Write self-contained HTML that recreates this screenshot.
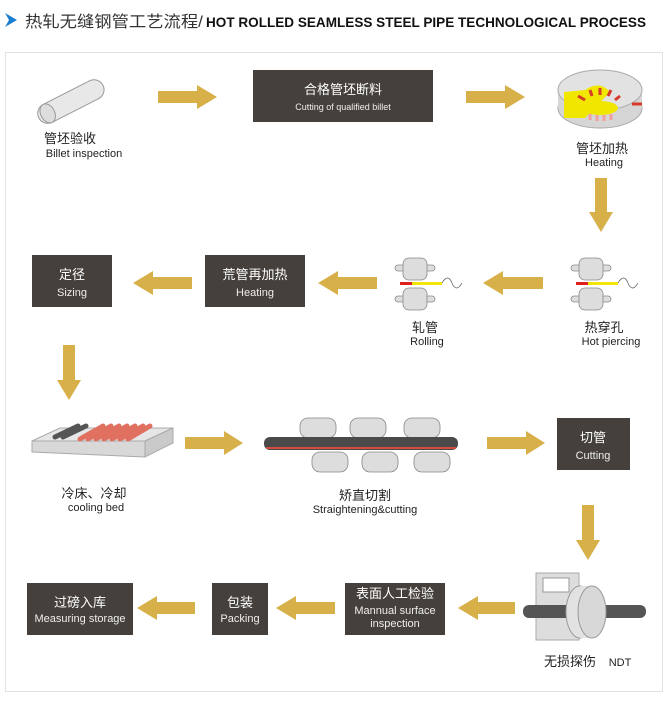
<!DOCTYPE html>
<html><head><meta charset="utf-8"><style>
html,body{margin:0;padding:0;background:#fff;}
svg{display:block;}
text{font-family:"Liberation Sans","Noto Sans CJK SC",sans-serif;}
.cn{font-size:13px;fill:#222;}
.en{font-size:11px;fill:#222;}
.bc{font-size:13px;fill:#fff;}
.be{font-size:11px;fill:#eee;}
.a{fill:#d8b04a;}
.box{fill:#45403c;}
.roll{fill:#ddd;stroke:#888;stroke-width:0.8;}
</style></head><body>
<svg width="672" height="704" viewBox="0 0 672 704" xmlns="http://www.w3.org/2000/svg">
<!-- header -->
<polygon points="5,13 17,20 5,27 9,20" fill="#1a7fd0"/>
<text x="25" y="27" style="font-size:16px;fill:#333" textLength="178" lengthAdjust="spacingAndGlyphs">热轧无缝钢管工艺流程/</text>
<text x="206" y="27" style="font-size:14px;font-weight:bold;fill:#111" textLength="440" lengthAdjust="spacingAndGlyphs">HOT ROLLED SEAMLESS STEEL PIPE TECHNOLOGICAL  PROCESS</text>
<rect x="5.5" y="52.5" width="657" height="639" fill="none" stroke="#e2e2e2"/>

<!-- row 1 -->
<g transform="rotate(-27 70 102)"><rect x="35" y="92" width="72" height="20" rx="10" fill="#e8e8e8" stroke="#999"/><ellipse cx="45" cy="102" rx="7" ry="10" fill="#ddd" stroke="#999"/></g>
<text x="70" y="143" text-anchor="middle" class="cn">管坯验收</text>
<text x="84" y="157" text-anchor="middle" class="en">Billet  inspection</text>
<polygon class="a" points="158,91 197,91 197,85 217,97 197,109 197,103 158,103"/>
<rect class="box" x="253" y="70" width="180" height="52"/>
<text x="343" y="94" text-anchor="middle" class="bc">合格管坯断料</text>
<text x="343" y="110" text-anchor="middle" class="be" style="font-size:9px">Cutting of qualified billet</text>
<polygon class="a" points="466,91 505,91 505,85 525,97 505,109 505,103 466,103"/>
<!-- furnace -->
<ellipse cx="600" cy="108" rx="42" ry="20" fill="#d6d6d6" stroke="#aaa"/>
<rect x="558" y="90" width="84" height="18" fill="#d6d6d6"/>
<ellipse cx="600" cy="90" rx="42" ry="20" fill="#e2e2e2" stroke="#aaa"/>
<path d="M564 92 L585 90 Q600 80 610 92 L585 118 L564 118 Z" fill="#f0e600"/>
<ellipse cx="600" cy="108" rx="18" ry="7" fill="#f0e600"/>
<g stroke="#d63a2a" stroke-width="3"><line x1="585" y1="100" x2="578" y2="96"/><line x1="592" y1="96" x2="590" y2="90"/><line x1="600" y1="95" x2="600" y2="88"/><line x1="608" y1="96" x2="611" y2="90"/><line x1="615" y1="100" x2="620" y2="96"/><line x1="632" y1="104" x2="642" y2="104"/></g>
<g stroke="#f2a0a0" stroke-width="3"><line x1="590" y1="114" x2="590" y2="120"/><line x1="597" y1="115" x2="597" y2="121"/><line x1="604" y1="115" x2="604" y2="121"/><line x1="611" y1="114" x2="611" y2="120"/></g>
<text x="602" y="153" text-anchor="middle" class="cn">管坯加热</text>
<text x="604" y="166" text-anchor="middle" class="en">Heating</text>
<polygon class="a" points="595,178 607,178 607,212 613,212 601,232 589,212 595,212"/>

<!-- row 2 -->
<rect class="box" x="32" y="255" width="80" height="52"/>
<text x="72" y="279" text-anchor="middle" class="bc">定径</text>
<text x="72" y="296" text-anchor="middle" class="be">Sizing</text>
<polygon class="a" points="192,277 153,277 153,271 133,283 153,295 153,289 192,289"/>
<rect class="box" x="205" y="255" width="100" height="52"/>
<text x="255" y="279" text-anchor="middle" class="bc">荒管再加热</text>
<text x="255" y="296" text-anchor="middle" class="be">Heating</text>
<polygon class="a" points="377,277 338,277 338,271 318,283 338,295 338,289 377,289"/>
<polygon class="a" points="543,277 503,277 503,271 483,283 503,295 503,289 543,289"/>
<!-- rolling mills -->
<g id="mill">
<rect x="395" y="265" width="40" height="6" rx="3" class="roll"/>
<rect x="403" y="258" width="24" height="22" rx="6" class="roll"/>
<rect x="395" y="296" width="40" height="6" rx="3" class="roll"/>
<rect x="403" y="288" width="24" height="22" rx="6" class="roll"/>
<rect x="400" y="282" width="32" height="3" fill="#e02020"/>
<rect x="412" y="282" width="30" height="3" fill="#f2e600"/>
<path d="M442 283 q6 -10 10 0 t10 0" fill="none" stroke="#555" stroke-width="0.7"/>
</g>
<use href="#mill" transform="translate(176,0)"/>
<text x="425" y="332" text-anchor="middle" class="cn">轧管</text>
<text x="427" y="345" text-anchor="middle" class="en">Rolling</text>
<text x="604" y="332" text-anchor="middle" class="cn">热穿孔</text>
<text x="611" y="345" text-anchor="middle" class="en">Hot piercing</text>
<polygon class="a" points="63,345 75,345 75,380 81,380 69,400 57,380 63,380"/>

<!-- row 3 -->
<polygon points="32,441 60,428 173,428 145,441" fill="#e6e6e6" stroke="#aaa"/>
<polygon points="32,441 145,441 145,457 32,452" fill="#d8d8d8" stroke="#aaa"/>
<polygon points="145,441 173,428 173,443 145,457" fill="#cacaca" stroke="#aaa"/>
<g stroke-width="5" stroke-linecap="round">
<line x1="55" y1="437" x2="78" y2="426" stroke="#555"/><line x1="63" y1="437" x2="86" y2="426" stroke="#555"/>
<line x1="80" y1="439" x2="103" y2="426" stroke="#e07060"/><line x1="88" y1="439" x2="111" y2="426" stroke="#e07060"/>
<line x1="96" y1="439" x2="119" y2="426" stroke="#e07060"/><line x1="104" y1="439" x2="127" y2="426" stroke="#e07060"/>
<line x1="112" y1="439" x2="135" y2="426" stroke="#e07060"/><line x1="120" y1="439" x2="143" y2="426" stroke="#e07060"/>
<line x1="128" y1="439" x2="150" y2="426" stroke="#e07060"/></g>
<text x="94" y="498" text-anchor="middle" class="cn">冷床、冷却</text>
<text x="96" y="511" text-anchor="middle" class="en">cooling bed</text>
<polygon class="a" points="185,437 224,437 224,431 243,443 224,455 224,449 185,449"/>
<g class="roll"><rect x="300" y="418" width="36" height="20" rx="8"/><rect x="350" y="418" width="36" height="20" rx="8"/><rect x="404" y="418" width="36" height="20" rx="8"/>
<rect x="312" y="452" width="36" height="20" rx="8"/><rect x="362" y="452" width="36" height="20" rx="8"/><rect x="414" y="452" width="36" height="20" rx="8"/></g>
<rect x="264" y="437" width="194" height="13" rx="6" fill="#4a4a4a"/>
<rect x="266" y="447" width="190" height="2" fill="#d84a3a"/>
<text x="365" y="500" text-anchor="middle" class="cn">矫直切割</text>
<text x="365" y="513" text-anchor="middle" class="en">Straightening&amp;cutting</text>
<polygon class="a" points="487,437 526,437 526,431 545,443 526,455 526,449 487,449"/>
<rect class="box" x="557" y="418" width="73" height="52"/>
<text x="593" y="442" text-anchor="middle" class="bc">切管</text>
<text x="593" y="459" text-anchor="middle" class="be">Cutting</text>
<polygon class="a" points="582,505 594,505 594,540 600,540 588,560 576,540 582,540"/>

<!-- row 4 -->
<rect class="box" x="27" y="583" width="106" height="52"/>
<text x="80" y="607" text-anchor="middle" class="bc">过磅入库</text>
<text x="80" y="622" text-anchor="middle" class="be">Measuring storage</text>
<polygon class="a" points="195,602 157,602 157,596 137,608 157,620 157,614 195,614"/>
<rect class="box" x="212" y="583" width="56" height="52"/>
<text x="240" y="607" text-anchor="middle" class="bc">包装</text>
<text x="240" y="622" text-anchor="middle" class="be">Packing</text>
<polygon class="a" points="335,602 296,602 296,596 276,608 296,620 296,614 335,614"/>
<rect class="box" x="345" y="583" width="100" height="52"/>
<text x="395" y="598" text-anchor="middle" class="bc">表面人工检验</text>
<text x="395" y="614" text-anchor="middle" class="be">Mannual surface</text>
<text x="395" y="627" text-anchor="middle" class="be">inspection</text>
<polygon class="a" points="515,602 478,602 478,596 458,608 478,620 478,614 515,614"/>
<!-- NDT -->
<rect x="536" y="573" width="43" height="67" fill="#ddd" stroke="#aaa"/>
<rect x="543" y="578" width="26" height="14" fill="#fff" stroke="#999"/>
<rect x="523" y="605" width="123" height="13" rx="6" fill="#555"/>
<ellipse cx="580" cy="612" rx="14" ry="26" fill="#e2e2e2" stroke="#999"/>
<rect x="580" y="586" width="12" height="52" fill="#e2e2e2"/>
<ellipse cx="592" cy="612" rx="14" ry="26" fill="#d8d8d8" stroke="#999"/>
<text x="570" y="666" text-anchor="middle" class="cn">无损探伤</text>
<text x="620" y="666" text-anchor="middle" class="en">NDT</text>
</svg>
</body></html>
